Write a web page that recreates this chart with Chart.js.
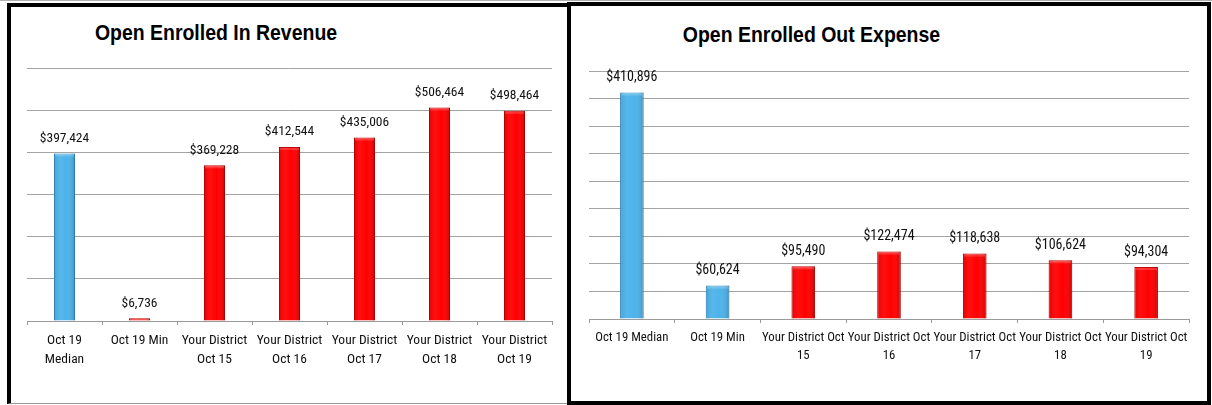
<!DOCTYPE html>
<html>
<head>
<meta charset="utf-8">
<title>Open Enrolled</title>
<script src="https://cdn.jsdelivr.net/npm/chart.js@4.4.1/dist/chart.umd.min.js"></script>
<style>
    body {
        margin: 0;
        width: 1212px;
        height: 405px;
        position: relative;
        overflow: hidden;
        background: #fff;
        font-family: "Liberation Sans", Arial, sans-serif;
    }
    .top-rule {
        position: absolute;
        left: 0;
        top: 0;
        width: 1212px;
        height: 1px;
        background: #b0b0b0;
    }
    .panel {
        position: absolute;
        box-sizing: border-box;
        background: #fff;
    }
    #revenue-panel {
        left: 7px;
        top: 3px;
        width: 564px;
        height: 401px;
        border-left: 4px solid #000;
        border-top: 4px solid #000;
        border-bottom: 1px solid #9a9a9a;
    }
    #expense-panel {
        left: 567px;
        top: 2px;
        width: 644px;
        height: 403px;
        border: 4px solid #000;
        z-index: 2;
    }
    .panel h2 {
        position: absolute;
        left: 0;
        margin: 0;
        font: bold 21.5px/26px "Liberation Sans", Arial, sans-serif;
        color: #000;
        text-align: center;
        white-space: nowrap;
        transform: scaleX(0.905);
    }
    #revenue-panel h2 { top: 13px; width: 410px; }
    #expense-panel h2 { top: 16px; width: 481px; }
    .panel canvas {
        position: absolute;
        left: 0;
        top: 0;
    }
</style>
</head>
<body>
<div class="top-rule"></div>

<div class="panel" id="revenue-panel">
    <h2>Open Enrolled In Revenue</h2>
    <canvas id="revenue-chart" width="556" height="396"></canvas>
</div>

<div class="panel" id="expense-panel">
    <h2>Open Enrolled Out Expense</h2>
    <canvas id="expense-chart" width="636" height="395"></canvas>
</div>

<script>
// revenue side
const revenueLabels = [['Oct 19', 'Median'], 'Oct 19 Min', ['Your District', 'Oct 15'], ['Your District', 'Oct 16'], ['Your District', 'Oct 17'], ['Your District', 'Oct 18'], ['Your District', 'Oct 19']];
const revenueValues = [397424, 6736, 369228, 412544, 435006, 506464, 498464];
const revenueMax = 600000;
const revenueStep = 100000;

// expense side
const expenseLabels = ['Oct 19 Median', 'Oct 19 Min', ['Your District Oct', '15'], ['Your District Oct', '16'], ['Your District Oct', '17'], ['Your District Oct', '18'], ['Your District Oct', '19']];
const expenseValues = [410896, 60624, 95490, 122474, 118638, 106624, 94304];
const expenseMax = 450000;
const expenseStep = 50000;

const BLUE = '#4db3ea';
const BLUE_EDGE = '#3393c9';
const RED = '#ff0000';
const RED_EDGE = '#c40000';

const revenueColors = [BLUE, RED, RED, RED, RED, RED, RED];
const revenueEdges = [BLUE_EDGE, RED_EDGE, RED_EDGE, RED_EDGE, RED_EDGE, RED_EDGE, RED_EDGE];
const expenseColors = [BLUE, BLUE, RED, RED, RED, RED, RED];
const expenseEdges = [BLUE_EDGE, BLUE_EDGE, RED_EDGE, RED_EDGE, RED_EDGE, RED_EDGE, RED_EDGE];

const FONT = '"Roboto Condensed", "Liberation Sans", Arial, sans-serif';
Chart.defaults.font.family = FONT;
Chart.defaults.color = '#111';

// soft bevel on each bar: darker sides, faint light strip along the top
const barShade = {
    id: 'barShade',
    afterDatasetsDraw(chart) {
        const ctx = chart.ctx;
        ctx.save();
        chart.getDatasetMeta(0).data.forEach((bar) => {
            const left = bar.x - bar.width / 2;
            const top = bar.y;
            const h = bar.base - bar.y;
            if (h < 1) return;
            const g = ctx.createLinearGradient(left, 0, left + bar.width, 0);
            g.addColorStop(0, 'rgba(0,0,0,0.10)');
            g.addColorStop(0.3, 'rgba(255,255,255,0.06)');
            g.addColorStop(0.6, 'rgba(255,255,255,0)');
            g.addColorStop(1, 'rgba(0,0,0,0.18)');
            ctx.fillStyle = g;
            ctx.fillRect(left, top, bar.width, h);
            ctx.fillStyle = 'rgba(255,255,255,0.18)';
            ctx.fillRect(left + 1, top + 1, bar.width - 2, Math.min(2, h - 1));
        });
        ctx.restore();
    }
};

// dollar amount written above every bar
const valueLabels = {
    id: 'valueLabels',
    afterDatasetsDraw(chart) {
        const ctx = chart.ctx;
        const values = chart.data.datasets[0].data;
        const size = chart.options.plugins.valueLabels.size;
        ctx.save();
        ctx.font = size + 'px ' + FONT;
        ctx.fillStyle = '#111';
        ctx.textAlign = 'center';
        ctx.textBaseline = 'middle';
        chart.getDatasetMeta(0).data.forEach((bar, i) => {
            ctx.fillText('$' + values[i].toLocaleString('en-US'), bar.x, bar.y - 15);
        });
        ctx.restore();
    }
};

function buildChart(canvasId, labels, values, colors, edges, opts) {
    return new Chart(document.getElementById(canvasId), {
        type: 'bar',
        data: {
            labels: labels,
            datasets: [{
                data: values,
                backgroundColor: colors,
                borderColor: edges,
                borderWidth: 1,
                categoryPercentage: 1,
                barPercentage: opts.barPct
            }]
        },
        options: {
            responsive: false,
            animation: false,
            events: [],
            layout: {
                padding: { left: opts.left, right: opts.right, top: opts.top, bottom: 0 }
            },
            plugins: {
                legend: { display: false },
                tooltip: { enabled: false },
                title: { display: false },
                valueLabels: { size: opts.valueSize }
            },
            scales: {
                x: {
                    grid: {
                        display: true,
                        drawOnChartArea: false,
                        drawTicks: true,
                        tickLength: 4,
                        color: '#9a9a9a'
                    },
                    border: { display: true, color: '#9a9a9a', width: 1 },
                    ticks: {
                        maxRotation: 0,
                        autoSkip: false,
                        padding: opts.tickPad,
                        color: '#111',
                        font: { size: opts.tickSize, lineHeight: opts.lineHeight }
                    },
                    afterFit(scale) { scale.height = opts.axisHeight; }
                },
                y: {
                    min: 0,
                    max: opts.max,
                    ticks: { display: false, stepSize: opts.step },
                    grid: { color: '#a3a3a3', drawTicks: false, lineWidth: 1 },
                    border: { display: false },
                    afterFit(scale) { scale.width = 0; }
                }
            }
        },
        plugins: [barShade, valueLabels]
    });
}

const revenueChart = buildChart('revenue-chart', revenueLabels, revenueValues, revenueColors, revenueEdges, {
    max: revenueMax, step: revenueStep, barPct: 0.28,
    left: 16, right: 15, top: 61, axisHeight: 82,
    tickPad: 6.5, tickSize: 13.5, lineHeight: 1.4, valueSize: 13.5
});

const expenseChart = buildChart('expense-chart', expenseLabels, expenseValues, expenseColors, expenseEdges, {
    max: expenseMax, step: expenseStep, barPct: 0.275,
    left: 18, right: 18, top: 65, axisHeight: 82,
    tickPad: 6.5, tickSize: 12.8, lineHeight: 1.35, valueSize: 14
});
</script>
</body>
</html>
